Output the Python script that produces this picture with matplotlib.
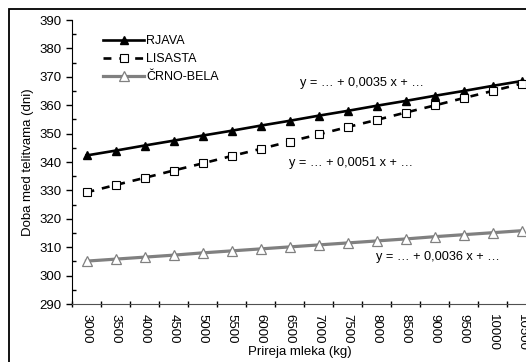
import matplotlib
matplotlib.use('Agg')
import matplotlib.pyplot as plt
from matplotlib.patches import Rectangle

plt.rcParams['font.family'] = ['Liberation Sans', 'DejaVu Sans']

# data
milk = ['3000', '3500', '4000', '4500', '5000', '5500', '6000', '6500',
        '7000', '7500', '8000', '8500', '9000', '9500', '10000', '10500']
rjava = [342.3, 344.0, 345.8, 347.5, 349.3, 351.0, 352.8, 354.5,
         356.3, 358.0, 359.8, 361.5, 363.3, 365.0, 366.8, 368.5]
lisasta = [329.3, 331.9, 334.4, 337.0, 339.5, 342.1, 344.6, 347.2,
           349.7, 352.3, 354.8, 357.4, 359.9, 362.5, 365.0, 367.6]
crno_bela = [305.1, 305.8, 306.5, 307.2, 308.0, 308.7, 309.4, 310.1,
             310.8, 311.5, 312.2, 312.9, 313.7, 314.4, 315.1, 315.8]
eq_labels = ['y = … + 0,0035 x + …', 'y = … + 0,0051 x + …', 'y = … + 0,0036 x + …']

fig = plt.figure(figsize=(5.26, 3.62), dpi=100)
ax = fig.add_axes([72/526, 1 - 304/362, 464/526, 284/362])

x = list(range(len(milk)))
ax.plot(x, rjava, color='black', lw=1.9, marker='^', ms=6,
        mfc='black', mec='black', label='RJAVA', clip_on=False)
ax.plot(x, lisasta, color='black', lw=1.9, ls=(0, (3, 3)), marker='s', ms=6,
        mfc='white', mec='black', mew=0.8, label='LISASTA', clip_on=False)
ax.plot(x, crno_bela, color='#808080', lw=2.3, marker='^', ms=7,
        mfc='white', mec='#808080', mew=0.9, label='ČRNO-BELA', clip_on=False)

ax.set_xlim(-0.5, len(milk) - 0.5)
ax.set_ylim(290, 390)

ax.set_yticks(range(290, 391, 10))
ax.set_yticks(range(295, 390, 10), minor=True)
ax.tick_params(axis='y', which='major', direction='out', length=4, width=1,
               labelsize=9.5, pad=3.5)
ax.tick_params(axis='y', which='minor', direction='in', length=3, width=1)

ax.set_xticks(x)
ax.set_xticklabels(milk, rotation=-90, fontsize=9.5)
ax.set_xticks([i - 0.5 for i in range(len(milk) + 1)], minor=True)
ax.tick_params(axis='x', which='major', length=0, pad=7)
ax.tick_params(axis='x', which='minor', direction='inout', length=5, width=1)

ax.spines['top'].set_visible(False)
ax.spines['right'].set_visible(False)
ax.spines['left'].set_color('black')
ax.spines['bottom'].set_color('#505050')

fig.text(28/526, 1 - 162/362, 'Doba med telitvama (dni)', rotation=90,
         ha='center', va='center', fontsize=9.5)
fig.text(300/526, 1 - 352/362, 'Prireja mleka (kg)', ha='center', va='center',
         fontsize=9.5)

ax.text(7.36, 367.8, eq_labels[0], ha='left', va='center', fontsize=9.2)
ax.text(6.98, 339.6, eq_labels[1], ha='left', va='center', fontsize=9.2)
ax.text(9.98, 306.5, eq_labels[2], ha='left', va='center', fontsize=9.2)

ax.legend(loc='upper left', bbox_to_anchor=(103/526, 1 - 35/362),
          bbox_transform=fig.transFigure, frameon=False, fontsize=9,
          handlelength=3.3, handletextpad=0.15, labelspacing=0.5,
          borderpad=0, borderaxespad=0)

# outer chart frame (cut off at right and bottom)
fig.patches.append(Rectangle((9.5/526, -0.1), 1.2, 1 - 9.5/362 + 0.1,
                             transform=fig.transFigure, fill=False,
                             edgecolor='black', lw=1.3, clip_on=False))

fig.savefig('out.png', dpi=100)
